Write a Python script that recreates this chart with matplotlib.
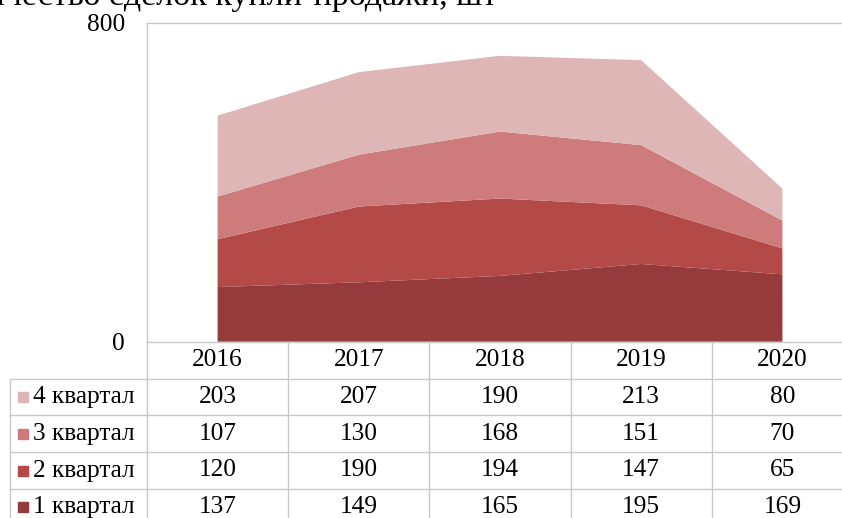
import matplotlib.pyplot as plt

# данные: количество сделок по кварталам
years = ['2016', '2017', '2018', '2019', '2020']
q1 = [137, 149, 165, 195, 169]
q2 = [120, 190, 194, 147, 65]
q3 = [107, 130, 168, 151, 70]
q4 = [203, 207, 190, 213, 80]
series_names = ['1 квартал', '2 квартал', '3 квартал', '4 квартал']
colors = ['#953B3B', '#B44A47', '#CD7C7B', '#DFB6B6']
title = 'Количество сделок купли-продажи, шт'

plt.rcParams['font.family'] = ['Liberation Serif', 'DejaVu Serif']
fsize = 18.3
grid_col = '#C8C8C8'

W, H = 842, 518
fig = plt.figure(figsize=(W / 100, H / 100), dpi=100)

# пиксельная разметка (по референсу)
plot_left, plot_right = 147, 853
plot_top, plot_bottom = 22.7, 341.7
row_h = 36.8
tab_left = 10

ax = fig.add_axes([plot_left / W, (H - plot_bottom) / H,
                   (plot_right - plot_left) / W, (plot_bottom - plot_top) / H])
x = list(range(len(years)))
ax.stackplot(x, q1, q2, q3, q4, colors=colors, linewidth=0)
ax.set_xlim(-0.5, len(years) - 0.5)
ax.set_ylim(0, 800)
ax.set_yticks([0, 800])
ax.set_yticklabels(['0', '800'], fontsize=fsize)
ax.tick_params(axis='y', length=0, pad=16)
ax.set_xticks([])
for s in ['right', 'bottom']:
    ax.spines[s].set_visible(False)
for s in ['left', 'top']:
    ax.spines[s].set_color(grid_col)
    ax.spines[s].set_linewidth(1)

# таблица данных под графиком
col_w = (plot_right - plot_left) / len(years)
x_left = (tab_left - plot_left) / col_w - 0.5
n_rows = 1 + len(series_names)
tab_bottom = plot_bottom + n_rows * row_h
tx = fig.add_axes([tab_left / W, (H - tab_bottom) / H,
                   (plot_right - tab_left) / W, n_rows * row_h / H])
tx.set_xlim(x_left, len(years) - 0.5)
tx.set_ylim(n_rows, 0)
tx.axis('off')

lkw = dict(color=grid_col, lw=1, clip_on=False)
tx.plot([-0.5, len(years) - 0.5], [0, 0], **lkw)
for r in range(1, n_rows):
    tx.plot([x_left, len(years) - 0.5], [r, r], **lkw)
tx.plot([x_left, x_left], [1, n_rows], **lkw)
for c in range(len(years)):
    tx.plot([c - 0.5, c - 0.5], [0, n_rows], **lkw)

for i, yr in enumerate(years):
    tx.text(i, 0.5, yr, ha='center', va='center', fontsize=fsize)

rows = [q4, q3, q2, q1]
row_names = series_names[::-1]
row_colors = colors[::-1]
px = 1 / col_w
for r, (vals, name, col) in enumerate(zip(rows, row_names, row_colors), start=1):
    tx.plot([x_left + 13 * px], [r + 0.5], marker='s', markersize=6.8,
            color=col, linestyle='none', clip_on=False)
    tx.text(x_left + 23 * px, r + 0.5, name, ha='left', va='center', fontsize=fsize)
    for i, v in enumerate(vals):
        tx.text(i, r + 0.5, str(v), ha='center', va='center', fontsize=fsize)

# заголовок (обрезан сверху в исходном изображении)
fig.text(497 / W, (H - 4.5) / H, title, ha='right', va='baseline', fontsize=24.5)

plt.savefig('out.png', dpi=100)
